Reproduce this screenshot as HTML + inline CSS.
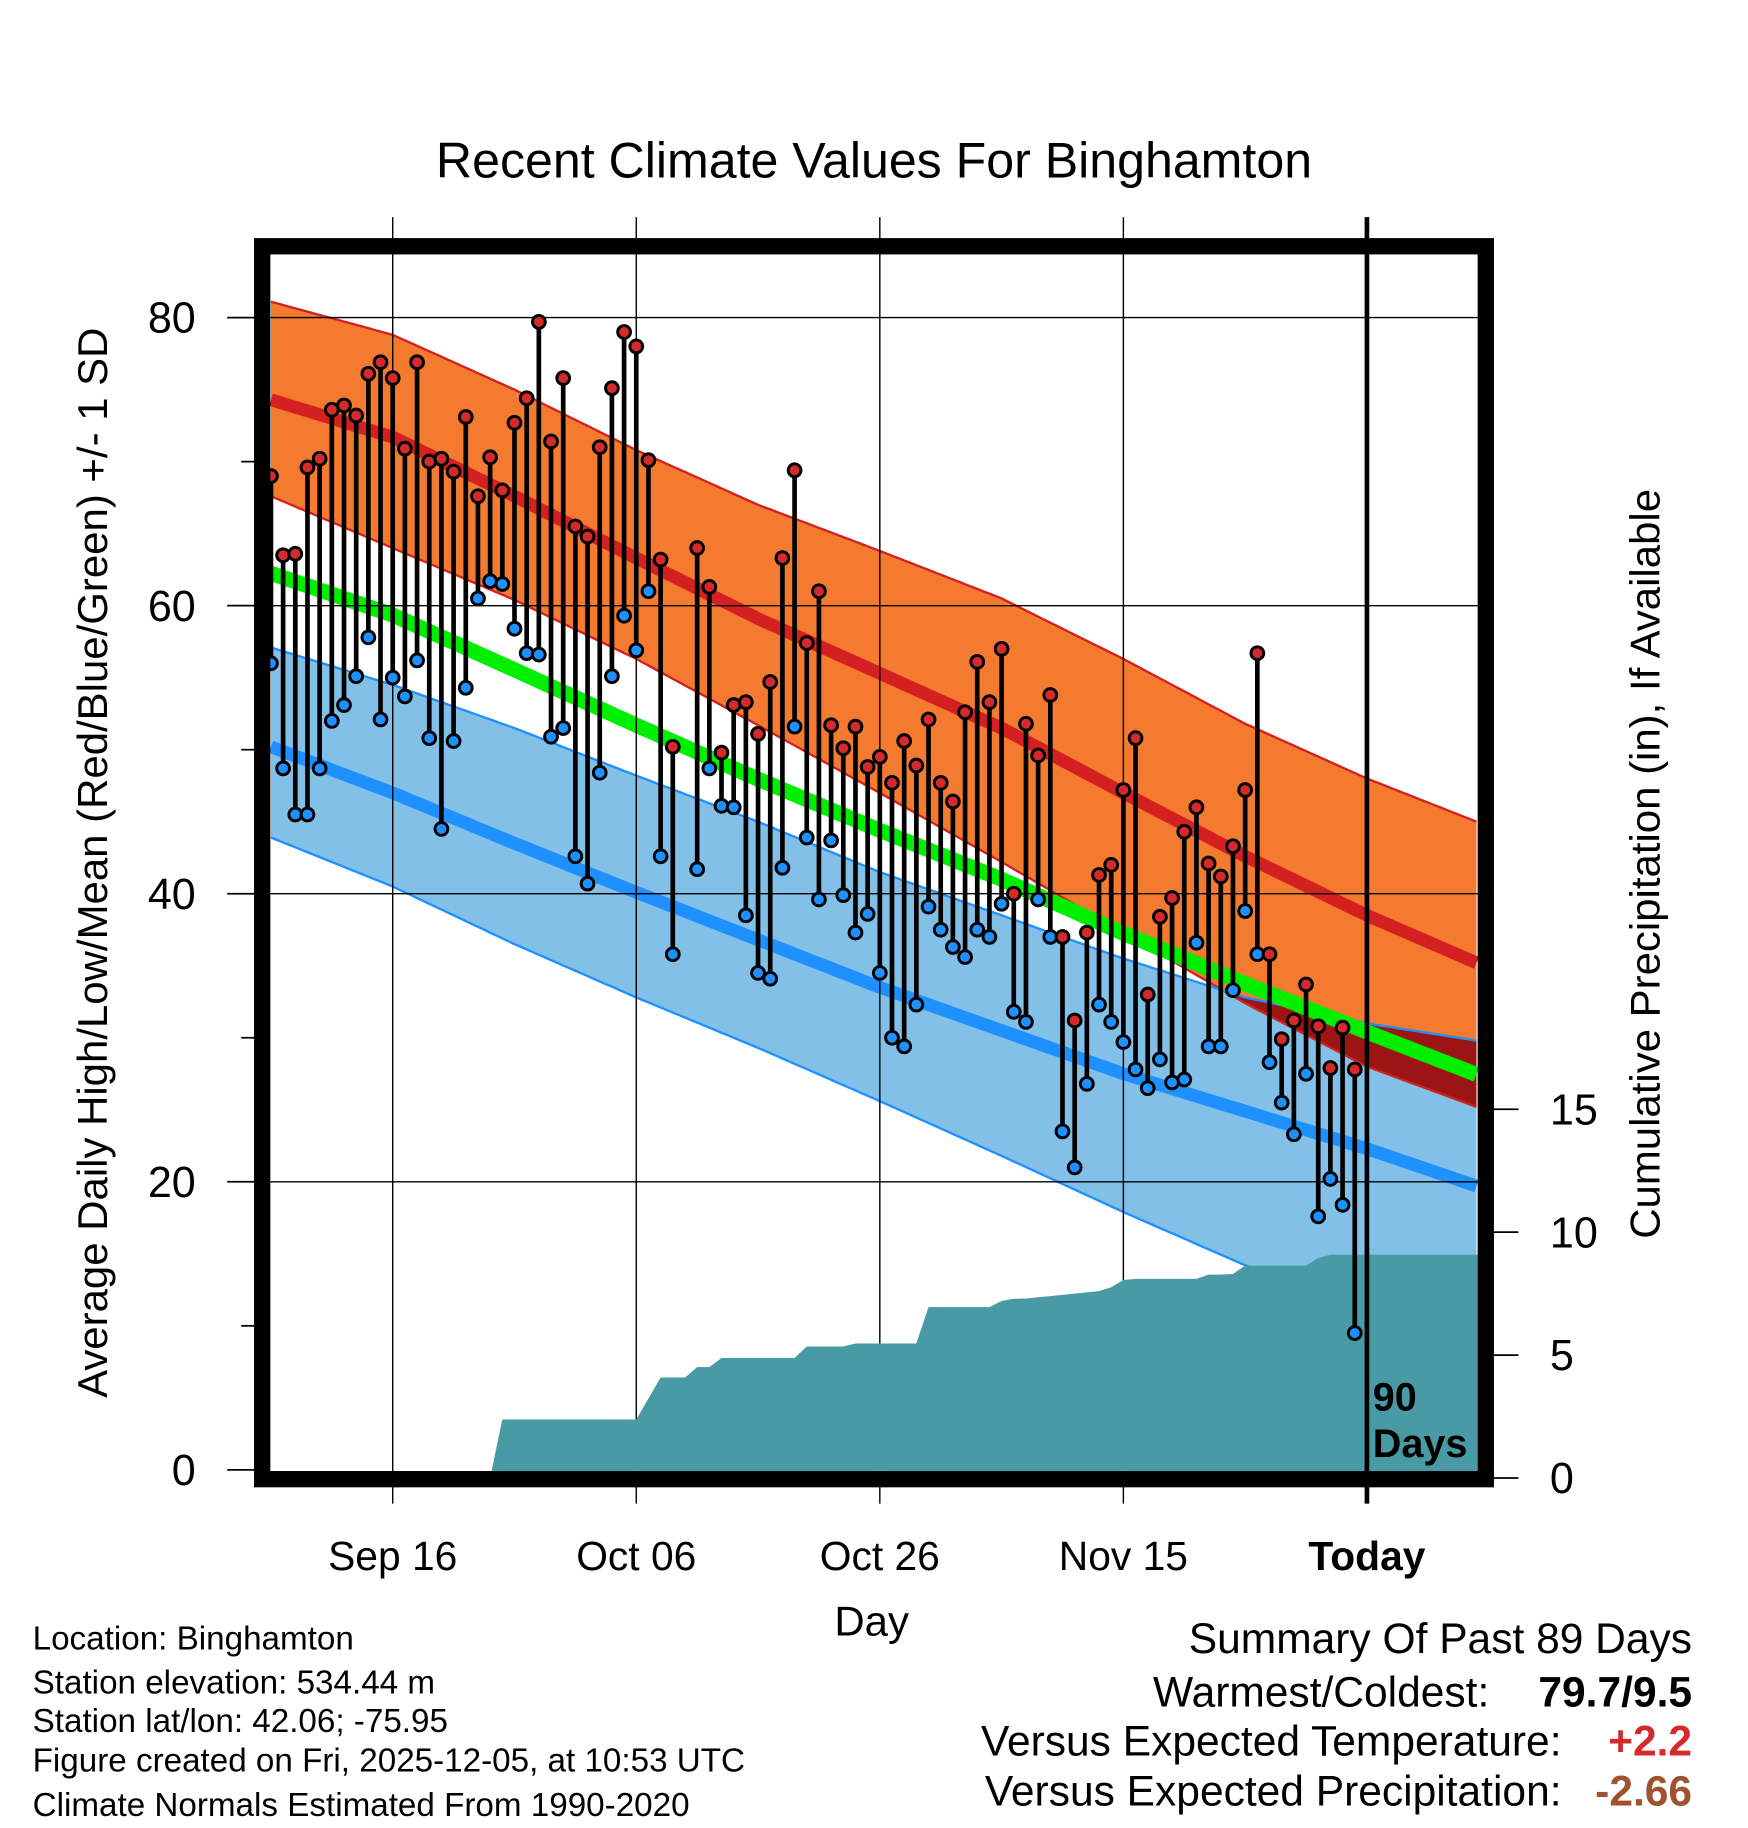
<!DOCTYPE html>
<html><head><meta charset="utf-8"><style>
html,body{margin:0;padding:0;background:#fff}
svg{display:block}
text{font-family:"Liberation Sans",Arial,sans-serif;fill:#000}
</style></head><body>
<svg id="chart" xmlns="http://www.w3.org/2000/svg" width="1748" height="1828" viewBox="0 0 1500 1568">
<rect width="1500" height="1568" fill="#fff"/>
<text x="750" y="152" font-size="43" text-anchor="middle">Recent Climate Values For Binghamton</text>
<g id="bands"></g>
<g id="grid"></g>
<g id="precip"></g>
<g id="obs"></g>
<g id="axes"></g>
<text transform="translate(92,740) rotate(-90)" font-size="36" text-anchor="middle">Average Daily High/Low/Mean (Red/Blue/Green) +/- 1 SD</text>
<text transform="translate(1424,741) rotate(-90)" font-size="36" text-anchor="middle">Cumulative Precipitation (in), If Available</text>
<text x="748" y="1403" font-size="36" text-anchor="middle">Day</text>
<text x="1178" y="1210" font-size="34" font-weight="bold">90</text>
<text x="1178" y="1250" font-size="34" font-weight="bold">Days</text>
<g font-size="28.5">
<text x="28" y="1415">Location: Binghamton</text>
<text x="28" y="1453">Station elevation: 534.44 m</text>
<text x="28" y="1486">Station lat/lon: 42.06; -75.95</text>
<text x="28" y="1520">Figure created on Fri, 2025-12-05, at 10:53 UTC</text>
<text x="28" y="1558">Climate Normals Estimated From 1990-2020</text>
</g>
<g font-size="36.5">
<text x="1452" y="1418" text-anchor="end">Summary Of Past 89 Days</text>
<text x="1278" y="1464" text-anchor="end">Warmest/Coldest:</text>
<text x="1452" y="1464" text-anchor="end" font-weight="bold">79.7/9.5</text>
<text x="1340" y="1506" text-anchor="end">Versus Expected Temperature:</text>
<text x="1452" y="1506" text-anchor="end" font-weight="bold" style="fill:#d62a2a">+2.2</text>
<text x="1340" y="1549" text-anchor="end">Versus Expected Precipitation:</text>
<text x="1452" y="1549" text-anchor="end" font-weight="bold" style="fill:#a0522d">-2.66</text>
</g>
</svg>
<script>
const highs=[69.0,63.5,63.6,69.6,70.2,73.6,73.9,73.2,76.1,76.9,75.8,70.9,76.9,70.0,70.2,69.3,73.1,67.6,70.3,68.0,72.7,74.4,79.7,71.4,75.8,65.5,64.8,71.0,75.1,79.0,78.0,70.1,63.2,50.2,null,64.0,61.3,49.8,53.1,53.3,51.1,54.7,63.3,69.4,57.4,61.0,51.7,50.1,51.6,48.8,49.5,47.7,50.6,48.9,52.1,47.7,46.4,52.6,56.1,53.3,57.0,40.0,51.8,49.6,53.8,37.0,31.2,37.3,41.3,42.0,47.2,50.8,33.0,38.4,39.7,44.3,46.0,42.1,41.2,43.3,47.2,56.7,35.8,29.9,31.2,33.7,30.8,27.9,30.7,27.8];
const lows=[56.0,48.7,45.5,45.5,48.7,52.0,53.1,55.1,57.8,52.1,55.0,53.7,56.2,50.8,44.5,50.6,54.3,60.5,61.7,61.5,58.4,56.7,56.6,50.9,51.5,42.6,40.7,48.4,55.1,59.3,56.9,61.0,42.6,35.8,null,41.7,48.7,46.1,46.0,38.5,34.5,34.1,41.8,51.6,43.9,39.6,43.7,39.9,37.3,38.6,34.5,30.0,29.4,32.3,39.1,37.5,36.3,35.6,37.5,37.0,39.3,31.8,31.1,39.6,37.0,23.5,21.0,26.8,32.3,31.1,29.7,27.8,26.5,28.5,26.9,27.1,36.6,29.4,29.4,33.3,38.8,35.8,28.3,25.5,23.3,27.5,17.6,20.2,18.4,9.5];
const precip=[0,0,0,0,0,0,0,0,0,0,0,0,0,0,0,0,0,0,0,2.38,2.38,2.38,2.38,2.38,2.38,2.38,2.38,2.38,2.38,2.38,2.38,3.24,4.09,4.09,4.09,4.51,4.51,4.88,4.88,4.88,4.88,4.88,4.88,4.88,5.35,5.35,5.35,5.35,5.47,5.47,5.47,5.47,5.47,5.47,6.95,6.95,6.95,6.95,6.95,6.95,7.2,7.29,7.3,7.35,7.4,7.45,7.5,7.55,7.6,7.76,8.05,8.1,8.1,8.1,8.1,8.1,8.1,8.27,8.27,8.3,8.64,8.64,8.64,8.64,8.64,8.64,8.95,9.08,9.08,9.08];
const normDays=[0,10,20,30,40,50,60,70,80,90,99];
const highMean=[74.3,71.7,67.6,63.3,59.1,55.3,51.5,47.0,42.6,38.5,35.2];
const highUpper=[81.1,78.8,75.0,70.8,67.0,63.8,60.5,56.3,51.8,48.0,45.0];
const highLower=[67.6,64.0,60.4,56.3,51.7,47.0,42.2,37.3,32.4,28.0,25.2];
const lowMean=[50.2,47.0,43.5,40.1,36.8,33.5,30.5,27.5,24.9,22.3,19.7];
const lowUpper=[57.1,54.5,51.5,48.2,45.0,41.5,38.5,35.5,32.8,31.0,29.8];
const lowLower=[43.9,40.5,36.5,32.8,29.3,25.6,21.8,17.9,14.2,11.5,9.0];
const yTicks=[0,20,40,60,80];
const yMinor=[10,30,50,70];
const pTicks=[0,5,10,15];
const xTickDays=[10,30,50,70,90];
const xTickLabels=["Sep 16","Oct 06","Oct 26","Nov 15","Today"];

const NS="http://www.w3.org/2000/svg";
const X0=232.5,DX=10.45,PL=232,PR=1268,PT=218,PB=1262;
const xs=d=>X0+DX*d;
const ys=v=>1261-12.36*v;
const yp=v=>1268-21.1*v;
function mk(tag,attrs,parent){const el=document.createElementNS(NS,tag);for(const k in attrs)el.setAttribute(k,attrs[k]);parent.appendChild(el);return el;}
function interp(arr,d){for(let i=0;i<normDays.length-1;i++){if(d<=normDays[i+1]){const t=(d-normDays[i])/(normDays[i+1]-normDays[i]);return arr[i]+t*(arr[i+1]-arr[i]);}}return arr[arr.length-1];}
const dense=[];for(let d=0;d<=99;d+=0.5)dense.push(d);
function line(arr){return dense.map(d=>xs(d).toFixed(1)+","+ys(interp(arr,d)).toFixed(1)).join(" ");}
function band(up,lo){return dense.map(d=>xs(d).toFixed(1)+","+ys(interp(up,d)).toFixed(1)).concat(dense.slice().reverse().map(d=>xs(d).toFixed(1)+","+ys(interp(lo,d)).toFixed(1))).join(" ");}
const bandsG=document.getElementById('bands');
let e;
e=mk('polygon',{points:band(lowUpper,lowLower),fill:'#82c0e8'},bandsG);


e=mk('polygon',{points:band(highUpper,highLower),fill:'#f47a30'},bandsG);


const ovTop=[],ovBot=[];
dense.forEach(d=>{const t=Math.min(interp(highUpper,d),interp(lowUpper,d));let b=Math.max(interp(highLower,d),interp(lowLower,d));if(b>t)b=t;ovTop.push(xs(d).toFixed(1)+","+ys(t).toFixed(1));ovBot.unshift(xs(d).toFixed(1)+","+ys(b).toFixed(1));});
e=mk('polygon',{points:ovTop.concat(ovBot).join(" "),fill:'#9b1515'},bandsG);


[[highUpper,'#d42020','high-upper-edge'],[highLower,'#d42020','high-lower-edge'],[lowUpper,'#1e90ff','low-upper-edge'],[lowLower,'#1e90ff','low-lower-edge']].forEach(a=>{
 const l=mk('polyline',{points:line(a[0]),fill:'none',stroke:a[1],'stroke-width':2},bandsG);
 
 
});
e=mk('polyline',{points:line(lowMean),fill:'none',stroke:'#1e90ff','stroke-width':11},bandsG);


e=mk('polyline',{points:line(highMean),fill:'none',stroke:'#d42020','stroke-width':11},bandsG);


const avgMean=highMean.map((v,i)=>(v+lowMean[i])/2);
e=mk('polyline',{points:line(avgMean),fill:'none',stroke:'#00ee00','stroke-width':13},bandsG);



const grid=document.getElementById('grid');
yTicks.slice(1).forEach(v=>{const g=mk('line',{x1:PL,x2:PR,y1:ys(v),y2:ys(v),stroke:'#000','stroke-width':1.2},grid);
 
 });
xTickDays.slice(0,4).forEach(d=>{const g=mk('line',{x1:xs(d),x2:xs(d),y1:186,y2:1290,stroke:'#000','stroke-width':1.2},grid);
 
 });

const pg=document.getElementById('precip');
let pts=[xs(0)+","+yp(0)];
precip.forEach((v,i)=>pts.push(xs(i).toFixed(1)+","+yp(v).toFixed(1)));
pts.push(PR+","+yp(precip[precip.length-1]).toFixed(1));
pts.push(PR+","+PB);pts.push(PL+","+PB);
e=mk('polygon',{points:pts.join(" "),fill:'#489aa4'},pg);



const og=document.getElementById('obs');
highs.forEach((h,i)=>{const l=lows[i];if(h==null||l==null)return;
 const s=mk('line',{x1:xs(i),x2:xs(i),y1:ys(h),y2:ys(l),stroke:'#000','stroke-width':4},og);
 
 
});
highs.forEach((h,i)=>{const l=lows[i];if(h==null||l==null)return;
 const c1=mk('circle',{cx:xs(i),cy:ys(h),r:5.5,fill:'#d42a2a',stroke:'#000','stroke-width':2.5},og);
 
 
 const c2=mk('circle',{cx:xs(i),cy:ys(l),r:5.5,fill:'#1e90ff',stroke:'#000','stroke-width':2.5},og);
 
 
});

const ax=document.getElementById('axes');
e=mk('line',{x1:xs(90),x2:xs(90),y1:186,y2:1290,stroke:'#000','stroke-width':4},ax);


e=mk('rect',{x:225,y:211,width:1050,height:1058,fill:'none',stroke:'#000','stroke-width':14},ax);


yTicks.forEach(v=>{const t=mk('line',{x1:195,x2:218,y1:ys(v),y2:ys(v),stroke:'#000','stroke-width':1.5},ax);
 
 
 const tx=mk('text',{x:168,y:ys(v)+13,'font-size':37,'text-anchor':'end'},ax);tx.textContent=v;
 
 });
yMinor.forEach(v=>{const t=mk('line',{x1:207,x2:218,y1:ys(v),y2:ys(v),stroke:'#000','stroke-width':1.5},ax);
 
 });
pTicks.forEach(v=>{const t=mk('line',{x1:1282,x2:1303,y1:yp(v),y2:yp(v),stroke:'#000','stroke-width':1.5},ax);
 
 
 const tx=mk('text',{x:1330,y:yp(v)+13,'font-size':37},ax);tx.textContent=v;
 
 });
xTickDays.forEach((d,i)=>{const tx=mk('text',{x:xs(d),y:1347,'font-size':35,'text-anchor':'middle'},ax);tx.textContent=xTickLabels[i];
 if(i===4)tx.setAttribute('font-weight','bold');
 
 });
</script>
</body></html>
